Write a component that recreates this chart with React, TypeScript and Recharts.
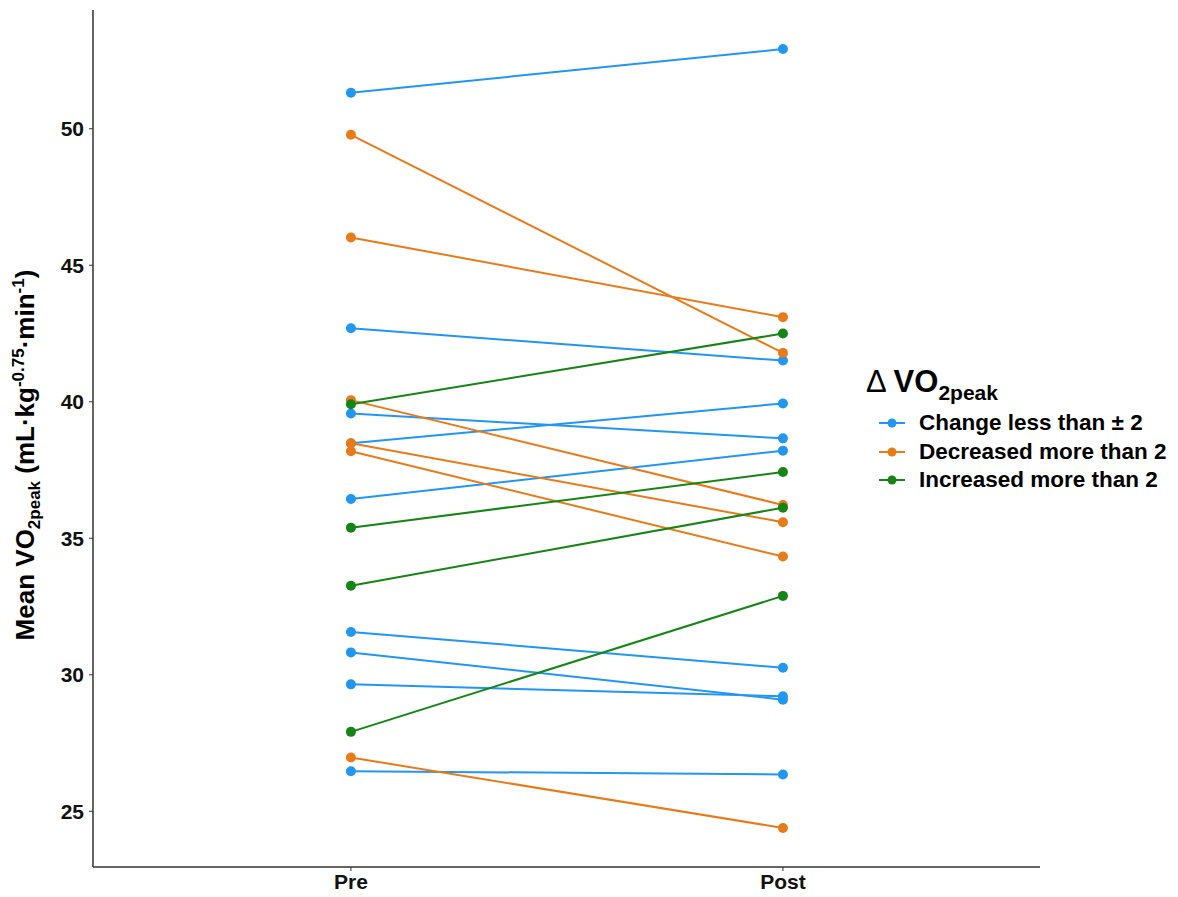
import React from 'react';
import { LineChart, Line, XAxis, YAxis } from 'recharts';

const FONT = '"Liberation Sans", Arial, Helvetica, sans-serif';

// x positions for the two time points
const timeLabels = ['Pre', 'Post'];
const timeTicks = [1, 2];

// paired values (pre, post), one array per group
const stableIds = ['s1', 's2', 's3', 's4', 's5', 's6', 's7', 's8', 's9'];
const stablePre = [51.32, 42.69, 39.57, 38.48, 36.44, 31.57, 30.82, 29.65, 26.47];
const stablePost = [52.92, 41.51, 38.66, 39.94, 38.21, 30.26, 29.09, 29.21, 26.35];

const decreasedIds = ['d1', 'd2', 'd3', 'd4', 'd5', 'd6'];
const decreasedPre = [49.78, 46.02, 40.06, 38.48, 38.19, 26.97];
const decreasedPost = [41.79, 43.1, 36.22, 35.59, 34.33, 24.39];

const increasedIds = ['i1', 'i2', 'i3', 'i4'];
const increasedPre = [39.91, 35.39, 33.26, 27.91];
const increasedPost = [42.5, 37.43, 36.12, 32.89];

const yTicks = [25, 30, 35, 40, 45, 50];

const GROUPS = [
  { name: 'Change less than \u00b1 2', color: '#2196F3', ids: stableIds, pre: stablePre, post: stablePost },
  { name: 'Decreased more than 2', color: '#E87B17', ids: decreasedIds, pre: decreasedPre, post: decreasedPost },
  { name: 'Increased more than 2', color: '#158515', ids: increasedIds, pre: increasedPre, post: increasedPost },
];

const YLabel = () => (
  <text
    transform="rotate(-90)"
    x={-455}
    y={34}
    textAnchor="middle"
    fontSize={26}
    fontWeight="bold"
    fontFamily={FONT}
    fill="#000"
  >
    <tspan>Mean VO</tspan>
    <tspan fontSize={17} dy={6}>2peak</tspan>
    <tspan dy={-6}> (mL·kg</tspan>
    <tspan fontSize={17} dy={-10}>-0.75</tspan>
    <tspan dy={10}>·min</tspan>
    <tspan fontSize={17} dy={-10}>-1</tspan>
    <tspan dy={10}>)</tspan>
  </text>
);

export default function App() {
  return (
    <div style={{ position: 'relative', width: 1178, height: 897, margin: -8, background: '#fff', fontFamily: FONT }}>
      <LineChart width={1178} height={897} margin={{ top: 10, right: 138, bottom: 0, left: 0 }}>
        <XAxis
          type="number"
          dataKey="x"
          domain={[0.403, 2.595]}
          ticks={timeTicks}
          tickFormatter={(v: number) => timeLabels[v - 1]}
          height={30}
          axisLine={{ stroke: '#333', strokeWidth: 1.5 }}
          tickLine={{ stroke: '#333' }}
          tickSize={4}
          tickMargin={3}
          tick={{ fontSize: 21, fontWeight: 'bold', fill: '#111', fontFamily: FONT }}
          allowDataOverflow
        />
        <YAxis
          type="number"
          domain={[22.96, 54.35]}
          ticks={yTicks}
          width={93}
          axisLine={{ stroke: '#333', strokeWidth: 1.5 }}
          tickLine={{ stroke: '#333' }}
          tickSize={4}
          tickMargin={5}
          tick={{ fontSize: 21, fontWeight: 'bold', fill: '#111', fontFamily: FONT }}
          label={<YLabel />}
          allowDataOverflow
        />
        {GROUPS.map((g) =>
          g.ids.map((id, i) => (
            <Line
              key={id}
              data={[
                { x: timeTicks[0], v: g.pre[i] },
                { x: timeTicks[1], v: g.post[i] },
              ]}
              dataKey="v"
              type="linear"
              stroke={g.color}
              strokeWidth={2}
              dot={{ r: 5, fill: g.color, stroke: 'none' }}
              activeDot={false}
              isAnimationActive={false}
            />
          ))
        )}
      </LineChart>

      {/* Legend */}
      <div style={{ position: 'absolute', left: 866, top: 364, color: '#000' }}>
        <div style={{ fontSize: 31, lineHeight: '36px', whiteSpace: 'nowrap' }}>
          <span style={{ fontWeight: 'normal' }}>Δ </span>
          <span style={{ fontWeight: 'bold' }}>
            VO<span style={{ fontSize: 21, position: 'relative', top: 8 }}>2peak</span>
          </span>
        </div>
        <div style={{ marginTop: 6 }}>
          {GROUPS.map((g) => (
            <div key={g.name} style={{ display: 'flex', alignItems: 'center', height: 28.5 }}>
              <svg width={40} height={20} style={{ marginLeft: 13 }}>
                <line x1={0} y1={10} x2={26} y2={10} stroke={g.color} strokeWidth={2} />
                <circle cx={13} cy={10} r={4.5} fill={g.color} />
              </svg>
              <span style={{ fontSize: 22.5, fontWeight: 'bold', whiteSpace: 'nowrap' }}>{g.name}</span>
            </div>
          ))}
        </div>
      </div>
    </div>
  );
}
